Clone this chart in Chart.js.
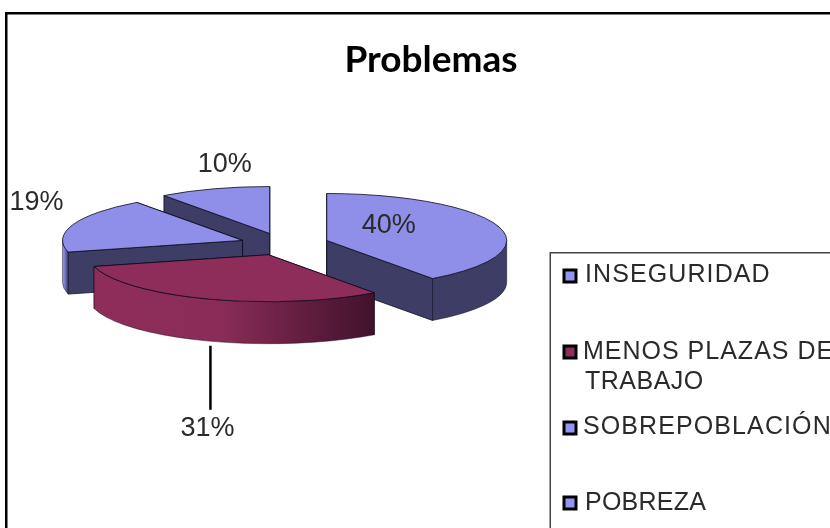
<!DOCTYPE html>
<html>
<head>
<meta charset="utf-8">
<title>Problemas</title>
<script src="https://cdn.jsdelivr.net/npm/chart.js@4/dist/chart.umd.min.js"></script>
<style>
  html, body { margin: 0; padding: 0; background: #fff; overflow: hidden; }
  canvas { display: block; }
</style>
</head>
<body>
<canvas id="chart" width="862" height="528"></canvas>
<script>
// Chart data
const categories = ['INSEGURIDAD', 'MENOS PLAZAS DE TRABAJO', 'SOBREPOBLACIÓN', 'POBREZA'];
const shares = [40, 31, 19, 10];

// Slice styles
const topColors = ['#8f8fe9', '#8f2d5a', '#8f8fe9', '#8f8fe9'];
const wallColors = ['#3d3d66', '#5a1c3a', '#3d3d66', '#3d3d66'];
const rimFrom = ['#3d3d66', '#8f2d5a', '#8f8fe9', '#3d3d66'];
const rimTo = ['#3d3d66', '#41122b', '#3d3d66', '#3d3d66'];
const explode = [46, 43, 43, 43];

// Fake 3D: vertical squash of the pie and height of the walls
const SQUASH = 0.261;
const DEPTH = 42;
const PAINT_ORDER = [3, 2, 0, 1]; // back to front

// Percent labels, relative to the centre of their slice
const labelOffsets = [[62, -15], [-61, 174], [-206, -38], [-45, -69]];

// Legend rows (wrapped by hand like the original): x, y, text, letter spacing
const legendRows = [
  { index: 0, marker: 276, lines: [[585, 275, 'INSEGURIDAD', 1.1]] },
  { index: 1, marker: 352, lines: [[583, 352, 'MENOS PLAZAS DE', 1.0], [585, 382, 'TRABAJO', 0.5]] },
  { index: 2, marker: 428, lines: [[583, 427, 'SOBREPOBLACIÓN', 1.1]] },
  { index: 3, marker: 503, lines: [[585, 503, 'POBREZA', 0.25]] },
];

const SANS = '"Liberation Sans", Arial, sans-serif';

// Centre of a slice once exploded along its middle angle
function _sliceCentre(arc) {
  const mid = (arc.startAngle + arc.endAngle) / 2;
  const m = arc.options.offset || 0;
  return { x: arc.x + Math.cos(mid) * m, y: arc.y + Math.sin(mid) * m * SQUASH };
}

function _drawSlice(ctx, arc, i) {
  const c = _sliceCentre(arc);
  const rx = arc.outerRadius;
  const ry = rx * SQUASH;
  const a0 = arc.startAngle;
  const a1 = arc.endAngle;
  const px = a => c.x + Math.cos(a) * rx;
  const py = a => c.y + Math.sin(a) * ry;

  ctx.lineWidth = 1;
  ctx.strokeStyle = 'rgba(10,10,30,0.75)';
  ctx.lineJoin = 'round';

  // Straight walls, the one further back first
  [a0, a1].sort((p, q) => py(p) - py(q)).forEach(a => {
    ctx.beginPath();
    ctx.moveTo(c.x, c.y);
    ctx.lineTo(px(a), py(a));
    ctx.lineTo(px(a), py(a) + DEPTH);
    ctx.lineTo(c.x, c.y + DEPTH);
    ctx.closePath();
    ctx.fillStyle = wallColors[i];
    ctx.fill();
    ctx.stroke();
  });

  // Curved wall, only the front half of the ellipse shows
  const low = Math.max(a0, 0);
  const high = Math.min(a1, Math.PI);
  if (low < high) {
    const left = Math.min(px(low), px(high));
    const right = Math.max(px(low), px(high));
    const grad = ctx.createLinearGradient(left, 0, right, 0);
    grad.addColorStop(0, rimFrom[i]);
    grad.addColorStop(i === 1 ? 0.45 : 0.2, i === 1 ? '#8a2c57' : rimFrom[i]);
    grad.addColorStop(1, rimTo[i]);
    ctx.beginPath();
    ctx.ellipse(c.x, c.y, rx, ry, 0, low, high);
    ctx.ellipse(c.x, c.y + DEPTH, rx, ry, 0, high, low, true);
    ctx.closePath();
    ctx.fillStyle = grad;
    ctx.fill();
    ctx.strokeStyle = 'rgba(10,10,30,0.45)';
    ctx.stroke();
  }

  // Top face
  ctx.beginPath();
  ctx.moveTo(c.x, c.y);
  ctx.ellipse(c.x, c.y, rx, ry, 0, a0, a1);
  ctx.closePath();
  ctx.fillStyle = topColors[i];
  ctx.fill();
  ctx.strokeStyle = 'rgba(10,10,30,0.8)';
  ctx.stroke();
}

const pie3dPlugin = {
  id: 'pie3d',
  // Replace the flat arcs by the tilted, extruded ones
  beforeDatasetDraw(chart, args) {
    const ctx = chart.ctx;
    const arcs = args.meta.data;
    ctx.save();
    PAINT_ORDER.forEach(i => _drawSlice(ctx, arcs[i], i));
    ctx.restore();
    return false;
  },
  afterDraw(chart) {
    const ctx = chart.ctx;
    const arcs = chart.getDatasetMeta(0).data;
    ctx.save();

    // Percent labels
    ctx.fillStyle = '#2a2a2a';
    ctx.font = '27px ' + SANS;
    ctx.textAlign = 'center';
    ctx.textBaseline = 'middle';
    shares.forEach((v, i) => {
      const c = _sliceCentre(arcs[i]);
      ctx.fillText(v + '%', c.x + labelOffsets[i][0], c.y + labelOffsets[i][1]);
    });

    // Leader line of the 31% label
    const c1 = _sliceCentre(arcs[1]);
    ctx.beginPath();
    ctx.moveTo(c1.x - 58, c1.y + 91);
    ctx.lineTo(c1.x - 58, c1.y + 155);
    ctx.strokeStyle = '#000';
    ctx.lineWidth = 2.5;
    ctx.stroke();

    // Chart frame, runs off the window like the original
    ctx.strokeStyle = '#000';
    ctx.lineWidth = 2.5;
    ctx.strokeRect(6.25, 13.25, 900, 600);
    ctx.restore();
  },
};

// Legend lives in its own layout box on the right of the pie
const legendBox = {
  position: 'right',
  weight: 1,
  fullSize: false,
  options: {},
  width: 296,
  height: 0,
  isHorizontal() { return false; },
  update(maxWidth, maxHeight) {
    this.width = 296;
    this.height = maxHeight;
  },
  draw() {
    const ctx = this.chart.ctx;
    ctx.save();
    ctx.strokeStyle = '#444';
    ctx.lineWidth = 1.5;
    ctx.strokeRect(550.25, 252.75, 400, 400);

    ctx.font = '25px ' + SANS;
    ctx.textAlign = 'left';
    ctx.textBaseline = 'middle';
    legendRows.forEach(row => {
      ctx.fillStyle = row.index === 1 ? topColors[1] : '#9494f2';
      ctx.strokeStyle = '#000';
      ctx.lineWidth = 3;
      ctx.fillRect(564, row.marker - 6, 12, 12);
      ctx.strokeRect(564, row.marker - 6, 12, 12);
      ctx.fillStyle = '#2a2a2a';
      row.lines.forEach(l => {
        ctx.letterSpacing = l[3] + 'px';
        ctx.fillText(l[2], l[0], l[1]);
      });
    });
    ctx.restore();
  },
};

const legendPlugin = {
  id: 'sideLegend',
  beforeInit(chart) {
    legendBox.chart = chart;
    Chart.layouts.addBox(chart, legendBox);
  },
};

new Chart(document.getElementById('chart'), {
  type: 'pie',
  data: {
    labels: categories,
    datasets: [{
      data: shares,
      backgroundColor: topColors,
      offset: explode,
      radius: 180,
      borderWidth: 0,
    }],
  },
  options: {
    responsive: false,
    animation: false,
    layout: { padding: { bottom: 128 } },
    plugins: {
      legend: { display: false },
      tooltip: { enabled: false },
      title: {
        display: true,
        text: 'Problemas',
        color: '#000',
        font: { family: 'Lato', size: 37, weight: 'bold', lineHeight: 1.2 },
        padding: { top: 38, bottom: 6 },
      },
    },
  },
  plugins: [pie3dPlugin, legendPlugin],
});
</script>
</body>
</html>
